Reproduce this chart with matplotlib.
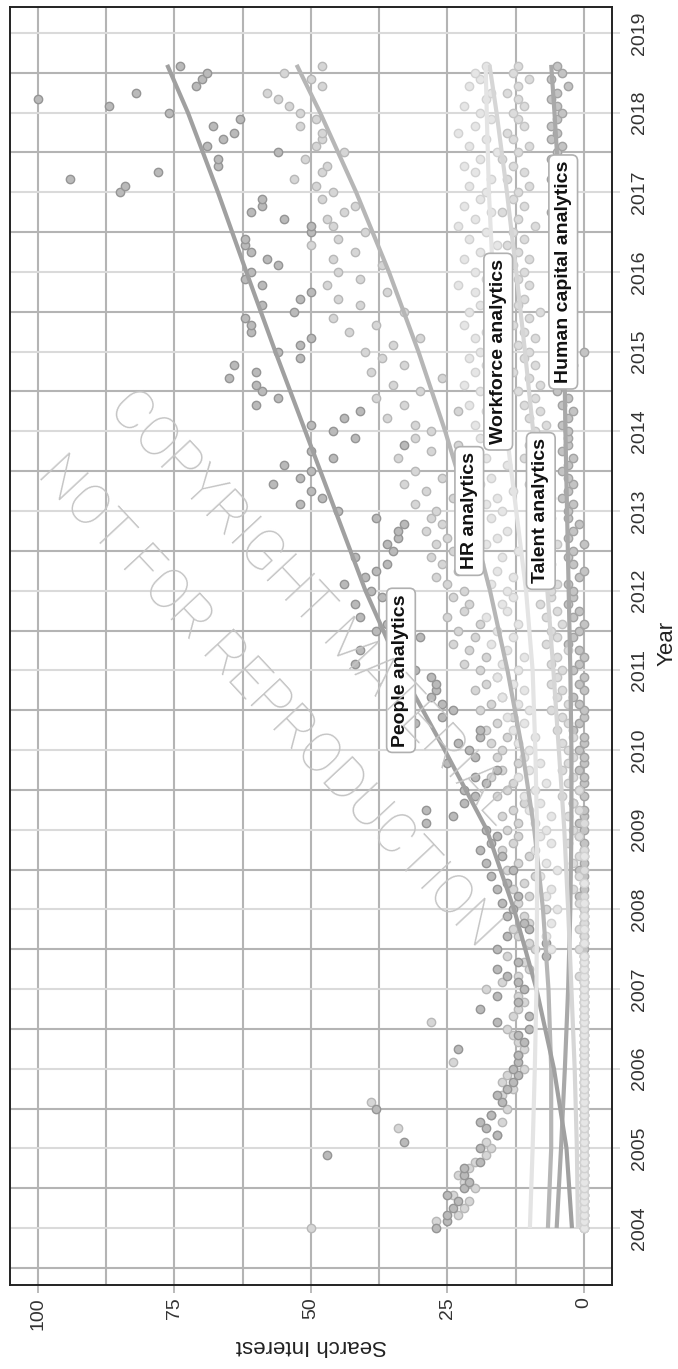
import numpy as np
import matplotlib.pyplot as plt
from matplotlib.ticker import MultipleLocator

plt.rcParams['font.family'] = ['Liberation Sans', 'DejaVu Sans']

# monthly Google search interest, Jan 2004 .. Aug 2018
people = [27, 25, 25, 24, 23, 25, 22, 21, 22, 22, 19, 47,
          19, 33, 16, 18, 19, 17, 38, 15, 16, 14, 13, 12,
          13, 12, 12, 23, 11, 12, 10, 16, 10, 19, 12, 16,
          11, 12, 14, 16, 12, 7, 16, 7, 14, 10, 11, 14,
          13, 15, 12, 16, 14, 17, 13, 18, 15, 19, 17, 16,
          18, 29, 24, 29, 22, 20, 22, 18, 20, 16, 25, 20,
          21, 23, 19, 19, 31, 26, 24, 26, 28, 27, 27, 28,
          31, 42, 33, 41, 35, 30, 38, 36, 41, 34, 42, 37,
          39, 44, 40, 38, 36, 42, 35, 36, 34, 34, 33, 38,
          45, 52, 48, 50, 57, 52, 50, 55, 46, 50, 33, 42,
          46, 50, 44, 41, 60, 56, 59, 60, 65, 60, 64, 52,
          56, 52, 50, 61, 61, 62, 53, 59, 52, 50, 59, 62,
          61, 56, 58, 61, 62, 62, 50, 50, 55, 61, 59, 59,
          85, 84, 94, 78, 67, 67, 56, 69, 66, 64, 68, 63,
          76, 87, 100, 82, 71, 70, 69, 74]
hr = [50, 27, 23, 22, 21, 24, 20, 22, 23, 21, 20, 18,
      17, 18, 16, 34, 15, 17, 14, 39, 15, 13, 15, 14,
      11, 24, 12, 11, 12, 13, 14, 28, 13, 12, 11, 12,
      18, 15, 12, 10, 11, 14, 9, 10, 12, 13, 10, 11,
      7, 12, 10, 13, 11, 9, 14, 12, 10, 15, 13, 12,
      14, 12, 15, 13, 11, 16, 14, 13, 17, 15, 12, 16,
      15, 17, 14, 18, 16, 13, 19, 17, 15, 20, 18, 16,
      19, 22, 18, 21, 24, 20, 23, 19, 25, 22, 21, 24,
      22, 25, 27, 23, 26, 28, 24, 27, 25, 29, 26, 28,
      27, 31, 24, 29, 33, 26, 31, 22, 34, 28, 23, 31,
      28, 31, 36, 23, 33, 38, 30, 35, 26, 39, 33, 37,
      40, 35, 30, 43, 38, 46, 33, 41, 45, 36, 47, 41,
      45, 37, 46, 42, 50, 45, 40, 46, 47, 44, 42, 48,
      46, 49, 53, 48, 47, 51, 44, 49, 48, 48, 52, 49,
      52, 54, 56, 58, 48, 50, 55, 48]
workforce = [0, 0, 0, 0, 0, 0, 0, 0, 0, 0, 0, 0,
             0, 0, 0, 0, 0, 0, 0, 0, 0, 0, 0, 0,
             0, 0, 0, 0, 0, 0, 0, 0, 0, 0, 0, 0,
             0, 0, 0, 0, 0, 0, 6, 0, 7, 0, 6, 0,
             5, 0, 7, 6, 0, 8, 5, 7, 0, 9, 6, 8,
             7, 9, 6, 10, 8, 11, 9, 7, 12, 10, 8, 11,
             10, 12, 9, 13, 11, 14, 10, 12, 15, 11, 13, 16,
             12, 15, 11, 14, 17, 13, 16, 12, 18, 14, 15, 13,
             14, 17, 13, 16, 19, 15, 12, 18, 16, 14, 20, 17,
             15, 18, 16, 13, 19, 17, 20, 14, 18, 21, 16, 19,
             17, 20, 15, 18, 21, 16, 19, 22, 17, 20, 18, 21,
             19, 16, 20, 18, 22, 17, 21, 19, 15, 20, 23, 18,
             20, 17, 22, 19, 16, 21, 18, 23, 20, 17, 22, 19,
             18, 21, 17, 20, 22, 19, 16, 21, 18, 23, 20, 17,
             19, 22, 18, 17, 21, 19, 20, 18]
talent = [0, 0, 0, 0, 0, 0, 0, 0, 0, 0, 0, 0,
          0, 0, 0, 0, 0, 0, 0, 0, 0, 0, 0, 0,
          0, 0, 0, 0, 0, 0, 0, 0, 0, 0, 0, 0,
          0, 0, 1, 0, 0, 0, 1, 0, 0, 1, 0, 0,
          0, 1, 0, 2, 0, 1, 0, 2, 1, 0, 3, 1,
          2, 0, 3, 1, 2, 4, 1, 3, 2, 4, 3, 2,
          3, 4, 2, 5, 3, 4, 6, 3, 5, 4, 6, 5,
          4, 6, 5, 3, 7, 5, 6, 4, 7, 5, 8, 6,
          6, 5, 7, 8, 6, 9, 7, 5, 8, 7, 9, 6,
          7, 9, 6, 8, 10, 7, 9, 8, 11, 7, 10, 8,
          9, 7, 10, 8, 11, 9, 12, 8, 10, 13, 9, 11,
          10, 12, 9, 11, 13, 10, 8, 12, 11, 14, 10, 12,
          11, 13, 10, 12, 14, 11, 13, 9, 12, 15, 11, 13,
          12, 10, 14, 11, 13, 15, 12, 10, 13, 14, 11, 12,
          13, 11, 12, 14, 12, 10, 13, 12]
human_capital = [0, 0, 0, 0, 0, 0, 0, 0, 0, 0, 0, 0,
                 0, 0, 0, 0, 0, 0, 0, 0, 0, 0, 0, 0,
                 0, 0, 0, 0, 0, 0, 0, 0, 0, 0, 0, 0,
                 0, 0, 0, 0, 0, 0, 0, 0, 0, 0, 0, 0,
                 0, 0, 1, 0, 0, 0, 1, 0, 0, 0, 0, 1,
                 0, 1, 0, 0, 2, 0, 1, 0, 0, 1, 0, 0,
                 1, 0, 0, 2, 1, 0, 0, 1, 2, 0, 1, 0,
                 2, 1, 0, 1, 3, 2, 1, 0, 2, 1, 3, 2,
                 2, 3, 1, 0, 2, 3, 2, 0, 3, 2, 1, 3,
                 3, 2, 4, 3, 2, 3, 4, 3, 2, 4, 3, 3,
                 3, 4, 3, 2, 4, 3, 5, 4, 3, 4, 2, 3,
                 0, 4, 3, 5, 4, 3, 4, 5, 3, 4, 4, 5,
                 4, 5, 3, 4, 5, 4, 3, 5, 4, 6, 5, 4,
                 5, 4, 6, 5, 4, 6, 5, 4, 6, 5, 6, 5,
                 4, 5, 6, 5, 3, 6, 4, 5]

# smoothed trend
fit_years = [2004, 2005, 2006, 2007, 2008, 2009, 2010, 2011, 2012,
             2013, 2014, 2015, 2016, 2017, 2018, 2018.6]
people_fit = [2.2, 3.2, 5.5, 8.7, 12.8, 17.8, 25.5, 33.5, 40.0,
              45.5, 51.0, 56.5, 61.8, 67.0, 72.5, 76.3]
hr_fit = [6.6, 6.0, 6.0, 6.5, 7.5, 9.1, 11.3, 14.0, 17.2,
          21.0, 25.4, 30.3, 35.7, 41.7, 48.3, 52.6]
workforce_fit = [9.9, 9.4, 9.0, 8.7, 8.6, 8.6, 8.9, 9.4, 10.6,
                 12.4, 14.2, 15.7, 16.7, 17.4, 17.8, 18.0]
talent_fit = [1.1, 1.3, 1.7, 2.3, 2.9, 3.6, 4.6, 5.6, 6.7,
              7.9, 9.3, 10.8, 12.4, 14.1, 16.0, 17.3]
hc_fit = [5.0, 4.2, 3.5, 2.9, 2.5, 2.3, 2.3, 2.5, 2.8,
          3.1, 3.4, 3.6, 3.8, 4.5, 5.4, 6.0]

names = ['HR analytics', 'Human capital analytics', 'People analytics',
         'Talent analytics', 'Workforce analytics']
values = [hr, human_capital, people, talent, workforce]
fits = [hr_fit, hc_fit, people_fit, talent_fit, workforce_fit]
label_years = [2013, 2016, 2011, 2013, 2015]

line_cols = ['#b6b6b6', '#a9a9a9', '#a0a0a0', '#d6d6d6', '#e4e4e4']
pt_fill = ['#d6d6d6', '#c4c4c4', '#bababa', '#dcdcdc', '#e6e6e6']
pt_edge = ['#b8b8b8', '#a3a3a3', '#959595', '#c4c4c4', '#d2d2d2']

months = np.arange(len(people))
dates = 2004 + months / 12.0

fig = plt.figure(figsize=(6.78, 13.69), dpi=100)
ax = fig.add_axes([10 / 678, 84 / 1369, 602 / 678, 1278 / 1369])

for v, fc, ec in zip(values, pt_fill, pt_edge):
    ax.scatter(v, dates, s=36, facecolor=fc, edgecolor=ec, linewidth=1.0, zorder=3)

for f, c in zip(fits, line_cols):
    ax.plot(f, fit_years, color=c, lw=3.0, solid_capstyle='butt', zorder=4)

for n, f, yr in zip(names, fits, label_years):
    val = np.interp(yr, fit_years, f)
    ax.text(val, yr, n, rotation=90, ha='center', va='center', fontsize=14,
            fontweight='bold', color='#111111', zorder=6,
            bbox=dict(boxstyle='round,pad=0.3', fc='white', ec='#b0b0b0', lw=1.2))

ax.set_xlim(105.07, -5.13)
ax.set_ylim(2003.285, 2019.326)

ax.xaxis.set_major_locator(MultipleLocator(25))
ax.xaxis.set_minor_locator(MultipleLocator(12.5))
ax.yaxis.set_major_locator(MultipleLocator(1))
ax.yaxis.set_minor_locator(MultipleLocator(0.5))
ax.set_xticks([0, 25, 50, 75, 100])
ax.set_yticks(range(2004, 2020))

ax.grid(axis='x', which='both', color='#b4b4b4', lw=1.5, zorder=0)
ax.grid(axis='y', which='major', color='#dadada', lw=1.5, zorder=0)
ax.grid(axis='y', which='minor', color='#b4b4b4', lw=1.5, zorder=0)
ax.set_axisbelow(True)

ax.yaxis.tick_right()
ax.tick_params(axis='x', which='major', length=6, width=1.3, color='#b4b4b4',
               labelsize=14, labelcolor='#333333', labelrotation=90, pad=3)
ax.tick_params(axis='y', which='major', length=6, width=1.3, color='#dadada',
               labelsize=14, labelcolor='#333333', labelrotation=90, pad=8)
ax.tick_params(which='minor', length=0)
for lab in ax.get_yticklabels():
    lab.set_va('center')

for sp in ax.spines.values():
    sp.set_color('#222222')
    sp.set_linewidth(1.4)

ax.set_xlabel('Search Interest', rotation=180, fontsize=16, color='#222222')
ax.xaxis.set_label_coords(0.5, -0.047)
ax.xaxis.label.set_va('center')
ax.yaxis.set_label_position('right')
ax.set_ylabel('Year', rotation=90, fontsize=16, color='#222222')
ax.yaxis.set_label_coords(1.0914, 0.502)
ax.yaxis.label.set_va('center')
ax.yaxis.label.set_ha('center')

wm = dict(fontsize=40, color='#c4c4c4', ha='center', va='center',
          family=['Roboto', 'DejaVu Sans'], fontweight='light', zorder=2)
fig.text(312 / 678, 1 - 608 / 1369, 'COPYRIGHT MATERIAL', rotation=-47, **wm)
fig.text(268 / 678, 1 - 702 / 1369, 'NOT FOR REPRODUCTION', rotation=-47, **wm)

fig.savefig('out.png', dpi=100)
